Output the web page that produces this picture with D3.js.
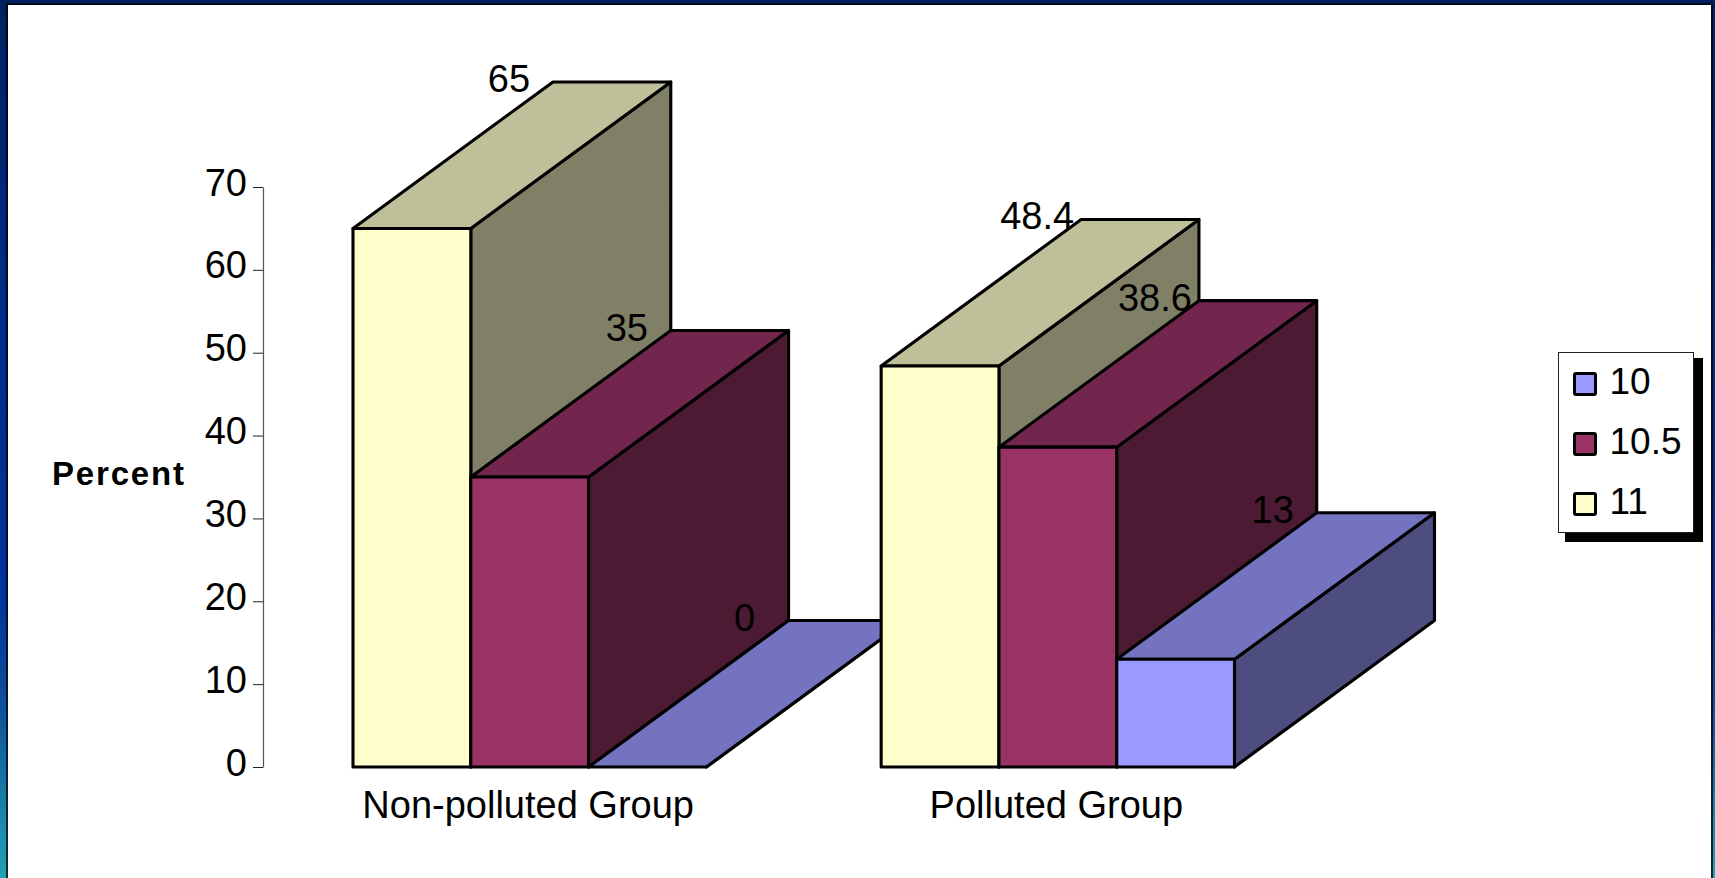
<!DOCTYPE html>
<html>
<head>
<meta charset="utf-8">
<script src="https://cdn.jsdelivr.net/npm/d3@7"></script>
<style>
html,body{margin:0;padding:0;background:#fff;overflow:hidden}
svg{display:block}
text{font-family:"Liberation Sans",Arial,sans-serif;fill:#000}
</style>
</head>
<body>
<svg id="c" width="1715" height="878"></svg>
<script>
const categories = ["Non-polluted Group", "Polluted Group"];
const seriesNames = ["10", "10.5", "11"];
const values10 = [0, 13];
const values105 = [35, 38.6];
const values11 = [65, 48.4];
const seriesColors = ["#9999FF", "#993366", "#FFFFCC"];
const yTicks = [0, 10, 20, 30, 40, 50, 60, 70];
const yTitle = "Percent";

const W = 1715, H = 878;
const depthX = 200, depthY = -146.5;
const fontPx = "38px";
const svg = d3.select("#c");

const seriesData = [values10, values105, values11];
const drawOrder = ["11", "10.5", "10"];

const defs = svg.append("defs");
const grad = defs.append("linearGradient").attr("id", "bg").attr("x1", 0).attr("y1", 0).attr("x2", 0).attr("y2", 1);
[[0, "#002060"], [0.35, "#002C86"], [0.68, "#003399"], [0.8, "#0D5199"], [0.9, "#1878A6"], [1, "#22A2B5"]]
  .forEach(s => grad.append("stop").attr("offset", s[0]).attr("stop-color", s[1]));

svg.append("rect").attr("width", W).attr("height", H).attr("fill", "url(#bg)");
svg.append("rect").attr("x", 6).attr("y", 3).attr("width", 1707).attr("height", H).attr("fill", "#000").attr("fill-opacity", 0.72);
svg.append("rect").attr("x", 8).attr("y", 5).attr("width", 1703).attr("height", H).attr("fill", "#fff");

const y = d3.scaleLinear().domain([0, 70]).range([767, 187]);
const x0 = d3.scaleBand().domain(categories).range([353, 1234.5]).paddingInner(0.331);
const x1 = d3.scaleBand().domain(drawOrder).range([0, x0.bandwidth()]);

function shade(c, k) {
  const r = d3.rgb(c);
  return d3.rgb(r.r * k, r.g * k, r.b * k).formatHex();
}
const line = d3.line();
const bars = [];
categories.forEach((cat, i) => {
  drawOrder.forEach(name => {
    const s = seriesNames.indexOf(name);
    bars.push({ cat, name, value: seriesData[s][i], color: seriesColors[s] });
  });
});

const plot = svg.append("g");
function styled(sel) {
  return sel.attr("stroke", "#000").attr("stroke-width", 3.1).attr("stroke-linejoin", "round");
}

bars.forEach(b => {
  const l = x0(b.cat) + x1(b.name), r = l + x1.bandwidth();
  const t = y(b.value), o = y(0);
  const g = plot.append("g");
  styled(g.append("path")).attr("fill", shade(b.color, 0.5))
    .attr("d", line([[r, t], [r + depthX, t + depthY], [r + depthX, o + depthY], [r, o]]) + "Z");
  styled(g.append("path")).attr("fill", shade(b.color, 0.75))
    .attr("d", line([[l, t], [l + depthX, t + depthY], [r + depthX, t + depthY], [r, t]]) + "Z");
  styled(g.append("rect")).attr("fill", b.color)
    .attr("x", l).attr("y", t).attr("width", r - l).attr("height", o - t);
});

// y axis
const axis = svg.append("g").attr("transform", "translate(263,0)")
  .call(d3.axisLeft(y).tickValues(yTicks).tickSize(10).tickSizeOuter(0).tickPadding(0));
axis.select(".domain").attr("stroke", "#555").attr("stroke-width", 1.2);
axis.selectAll(".tick line").attr("stroke", "#222").attr("stroke-width", 1);
axis.selectAll(".tick text")
  .attr("x", -16).attr("dy", null).attr("y", 8)
  .attr("text-anchor", "end")
  .style("font-family", '"Liberation Sans",Arial,sans-serif')
  .style("font-size", fontPx);

// category labels
svg.selectAll(".cat").data(categories).enter().append("text")
  .attr("class", "cat").attr("text-anchor", "middle").style("font-size", fontPx)
  .attr("x", d => x0(d) + x0.bandwidth() / 2 - 1.5).attr("y", 818)
  .text(d => d);

// data labels
svg.selectAll(".lab").data(bars).enter().append("text")
  .attr("class", "lab").attr("text-anchor", "middle").style("font-size", fontPx)
  .attr("x", d => x0(d.cat) + x1(d.name) + depthX - 44)
  .attr("y", d => y(d.value) + depthY + 10)
  .text(d => d.value);

// y title
svg.append("text").attr("x", 52).attr("y", 485)
  .attr("textLength", 132).attr("lengthAdjust", "spacing")
  .style("font-size", "33px").style("font-weight", "bold").text(yTitle);

// legend
svg.append("rect").attr("x", 1565).attr("y", 358).attr("width", 138).attr("height", 184).attr("fill", "#000");
svg.append("rect").attr("x", 1558.5).attr("y", 352.5).attr("width", 135).attr("height", 180)
  .attr("fill", "#fff").attr("stroke", "#222").attr("stroke-width", 1);
const ly = d3.scalePoint().domain(seriesNames).range([384, 504]);
const leg = svg.selectAll(".leg").data(seriesNames).enter().append("g").attr("class", "leg")
  .attr("transform", d => `translate(0,${ly(d)})`);
leg.append("rect").attr("x", 1574.5).attr("y", -10.5).attr("width", 21).attr("height", 21)
  .attr("rx", 1.5).attr("fill", (d, i) => seriesColors[i]).attr("stroke", "#000").attr("stroke-width", 3);
leg.append("text").attr("x", 1609.5).attr("y", 10).style("font-size", "37px").text(d => d);
</script>
</body>
</html>
